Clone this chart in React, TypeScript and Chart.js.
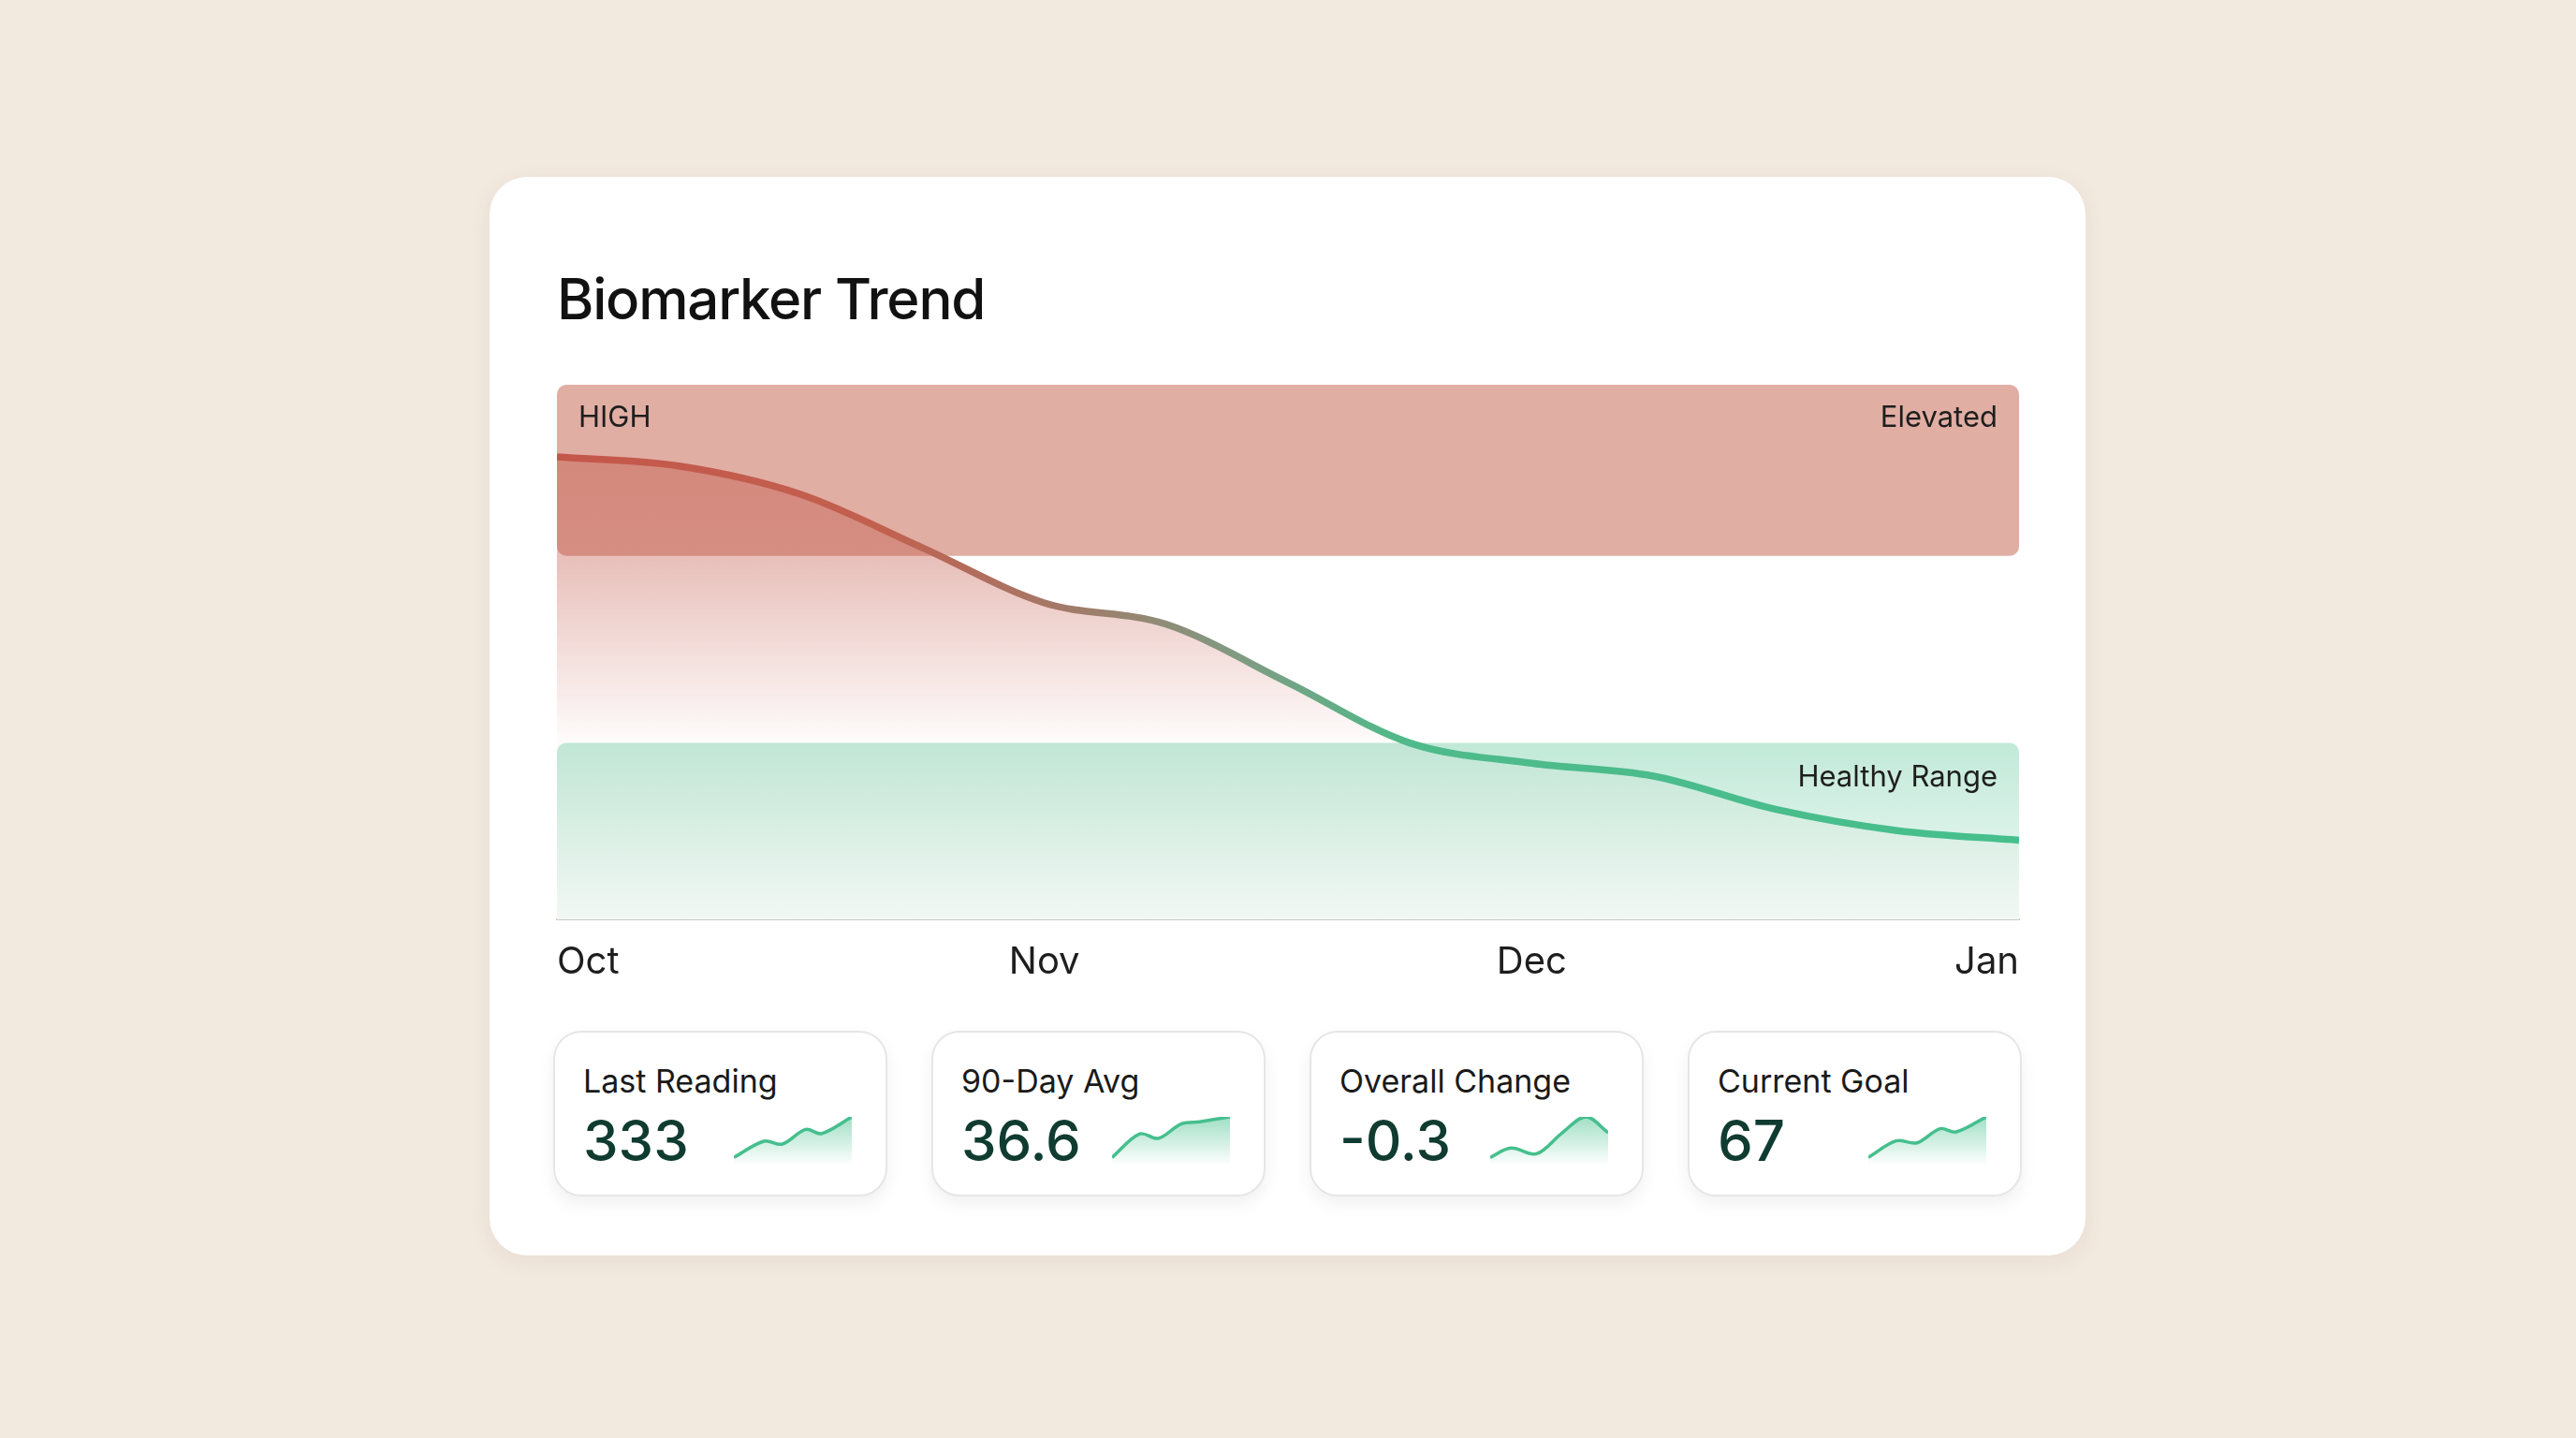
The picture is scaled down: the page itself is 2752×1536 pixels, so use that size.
import { useEffect, useRef } from "react"
import { Chart, registerables } from "chart.js"

Chart.register(...registerables)
Chart.defaults.font.family = "Inter, 'Noto Sans', sans-serif"

// main trend, x = months since Oct
const trendX = [0, 0.25, 0.5, 0.75, 1, 1.25, 1.5, 1.75, 2, 2.25, 2.5, 2.75, 3]
const trendY = [86.5, 84.8, 79.5, 69.5, 59.2, 55.2, 44.3, 33, 29.2, 26.8, 20.6, 16.6, 14.8]
const monthLabels = ["Oct", "Nov", "Dec", "Jan"]

// reference bands (same y units)
const elevatedBand = [68, 100]
const healthyBand = [0, 33]

const statLabels = ["Last Reading", "90-Day Avg", "Overall Change", "Current Goal"]
const statValues = ["333", "36.6", "-0.3", "67"]

const sparkX = [
  [0, 65, 105, 155, 190, 255],
  [0, 60, 100, 150, 190, 255],
  [0, 45, 100, 155, 207, 255],
  [0, 60, 105, 155, 190, 255],
]
const sparkY = [
  [0, 40, 33, 69, 59, 100],
  [0, 58, 47, 83, 88, 100],
  [0, 23, 9, 60, 100, 61],
  [0, 41, 36, 71, 63, 100],
]

const bandPlugin = {
  id: "bands",
  beforeDatasetsDraw(chart: any) {
    const { ctx, chartArea, scales } = chart
    const y = scales.y
    const left = chartArea.left
    const w = chartArea.right - chartArea.left

    // elevated
    const rTop = y.getPixelForValue(elevatedBand[1])
    const rBot = y.getPixelForValue(elevatedBand[0])
    ctx.save()
    ctx.fillStyle = "#e1aea4"
    ctx.beginPath()
    ctx.roundRect(left, rTop, w, rBot - rTop, 10)
    ctx.fill()

    // healthy
    const gTop = y.getPixelForValue(healthyBand[1])
    const gBot = y.getPixelForValue(healthyBand[0])
    const g = ctx.createLinearGradient(0, gTop, 0, gBot)
    g.addColorStop(0, "#c1e9d8")
    g.addColorStop(1, "#f3fbf7")
    ctx.fillStyle = g
    ctx.beginPath()
    ctx.roundRect(left, gTop, w, gBot - gTop, [10, 10, 0, 0])
    ctx.fill()

    ctx.fillStyle = "#1e1e1e"
    ctx.font = "31px Inter, sans-serif"
    ctx.textBaseline = "middle"
    ctx.textAlign = "left"
    ctx.fillText("HIGH", left + 23, rTop + 36)
    ctx.textAlign = "right"
    ctx.fillText("Elevated", chartArea.right - 23, rTop + 36)
    ctx.fillText("Healthy Range", chartArea.right - 23, gTop + 37)
    ctx.restore()
  },
}

function TrendChart() {
  const chartRef = useRef<HTMLCanvasElement>(null)
  const chartInstance = useRef<Chart | null>(null)

  useEffect(() => {
    if (!chartRef.current) return
    if (chartInstance.current) chartInstance.current.destroy()
    const ctx = chartRef.current.getContext("2d")
    if (!ctx) return

    chartInstance.current = new Chart(ctx, {
      type: "line",
      data: {
        datasets: [
          {
            data: trendX.map((x, i) => ({ x, y: trendY[i] })),
            borderWidth: 7.5,
            pointRadius: 0,
            cubicInterpolationMode: "monotone",
            fill: "origin",
            borderColor: (c: any) => {
              const a = c.chart.chartArea
              if (!a) return "#c4574a"
              const g = c.chart.ctx.createLinearGradient(a.left, 0, a.right, 0)
              g.addColorStop(0, "#c4574a")
              g.addColorStop(0.22, "#c2604f")
              g.addColorStop(0.35, "#a27a69")
              g.addColorStop(0.47, "#7f9c83")
              g.addColorStop(0.58, "#4fba8a")
              g.addColorStop(1, "#45bf8d")
              return g
            },
            backgroundColor: (c: any) => {
              const a = c.chart.chartArea
              if (!a) return "rgba(196,90,75,0.3)"
              const ys = c.chart.scales.y
              const top = ys.getPixelForValue(90)
              const bot = ys.getPixelForValue(healthyBand[1])
              const g = c.chart.ctx.createLinearGradient(0, top, 0, bot)
              g.addColorStop(0, "rgba(196,90,75,0.46)")
              g.addColorStop(0.4, "rgba(196,90,75,0.38)")
              g.addColorStop(1, "rgba(196,90,75,0.02)")
              return g
            },
          },
        ],
      },
      options: {
        animation: false,
        responsive: true,
        maintainAspectRatio: false,
        layout: { padding: 0 },
        plugins: { legend: { display: false }, tooltip: { enabled: false } },
        scales: {
          x: {
            type: "linear",
            min: 0,
            max: 3,
            grid: { display: false, drawTicks: false },
            border: { display: true, color: "#cbcbcb", width: 2 },
            ticks: {
              stepSize: 1,
              align: "inner",
              padding: 22,
              color: "#1e1e1e",
              font: { size: 40 },
              callback: (v: any) => monthLabels[Math.round(v)] ?? "",
            },
          },
          y: { display: false, min: 0, max: 100 },
        },
      },
      plugins: [bandPlugin],
    })

    return () => {
      if (chartInstance.current) chartInstance.current.destroy()
    }
  }, [])

  return <canvas ref={chartRef} />
}

function Sparkline({ xs, ys }: { xs: number[]; ys: number[] }) {
  const chartRef = useRef<HTMLCanvasElement>(null)
  const chartInstance = useRef<Chart | null>(null)

  useEffect(() => {
    if (!chartRef.current) return
    if (chartInstance.current) chartInstance.current.destroy()
    const ctx = chartRef.current.getContext("2d")
    if (!ctx) return

    chartInstance.current = new Chart(ctx, {
      type: "line",
      data: {
        datasets: [
          {
            data: xs.map((x, i) => ({ x, y: ys[i] })),
            borderColor: "#45bf8d",
            borderWidth: 3.5,
            pointRadius: 0,
            tension: 0.35,
            fill: "start",
            backgroundColor: (c: any) => {
              const a = c.chart.chartArea
              if (!a) return "rgba(69,191,141,0.3)"
              const g = c.chart.ctx.createLinearGradient(0, a.top, 0, a.bottom)
              g.addColorStop(0, "rgba(69,191,141,0.5)")
              g.addColorStop(1, "rgba(69,191,141,0)")
              return g
            },
          },
        ],
      },
      options: {
        animation: false,
        responsive: true,
        maintainAspectRatio: false,
        layout: { padding: 4 },
        plugins: { legend: { display: false }, tooltip: { enabled: false } },
        scales: {
          x: { type: "linear", display: false, min: 0, max: 255 },
          y: { display: false, min: -20, max: 100 },
        },
      },
    })

    return () => {
      if (chartInstance.current) chartInstance.current.destroy()
    }
  }, [xs, ys])

  return <canvas ref={chartRef} />
}

export default function App() {
  return (
    <div
      style={{
        position: "fixed",
        inset: 0,
        background: "#f2e9df",
        fontFamily: "Inter, 'Noto Sans', sans-serif",
      }}
    >
      <div
        style={{
          position: "absolute",
          left: 523,
          top: 189,
          width: 1705,
          height: 1152,
          background: "#ffffff",
          borderRadius: 40,
          boxShadow: "0 6px 24px rgba(120,100,80,0.08)",
        }}
      >
        <div
          style={{
            position: "absolute",
            left: 72,
            top: 101,
            fontSize: 60,
            lineHeight: "59px",
            fontWeight: 500,
            color: "#111111",
            letterSpacing: -1.2,
          }}
        >
          Biomarker Trend
        </div>

        {/* chart.js adds the tick padding on both sides, so the box is 22px wider each way */}
        <div style={{ position: "absolute", left: 50, top: 222, width: 1606, height: 663 }}>
          <TrendChart />
        </div>

        {statLabels.map((label, i) => (
          <div
            key={label}
            style={{
              position: "absolute",
              left: 68 + i * 404,
              top: 912,
              width: 357,
              height: 177,
              boxSizing: "border-box",
              border: "2px solid #e6e6e6",
              borderRadius: 30,
              background: "#ffffff",
              boxShadow: "0 8px 18px rgba(0,0,0,0.06)",
            }}
          >
            <div
              style={{
                position: "absolute",
                left: 30,
                top: 35,
                fontSize: 34,
                lineHeight: "34px",
                color: "#1a1a1a",
                whiteSpace: "nowrap",
              }}
            >
              {label}
            </div>
            <div
              style={{
                position: "absolute",
                left: 30,
                top: 85,
                fontSize: 60,
                lineHeight: "60px",
                fontWeight: 500,
                color: "#103b30",
              }}
            >
              {statValues[i]}
            </div>
            <div style={{ position: "absolute", left: 187, top: 86, width: 134, height: 60 }}>
              <Sparkline xs={sparkX[i]} ys={sparkY[i]} />
            </div>
          </div>
        ))}
      </div>
    </div>
  )
}
